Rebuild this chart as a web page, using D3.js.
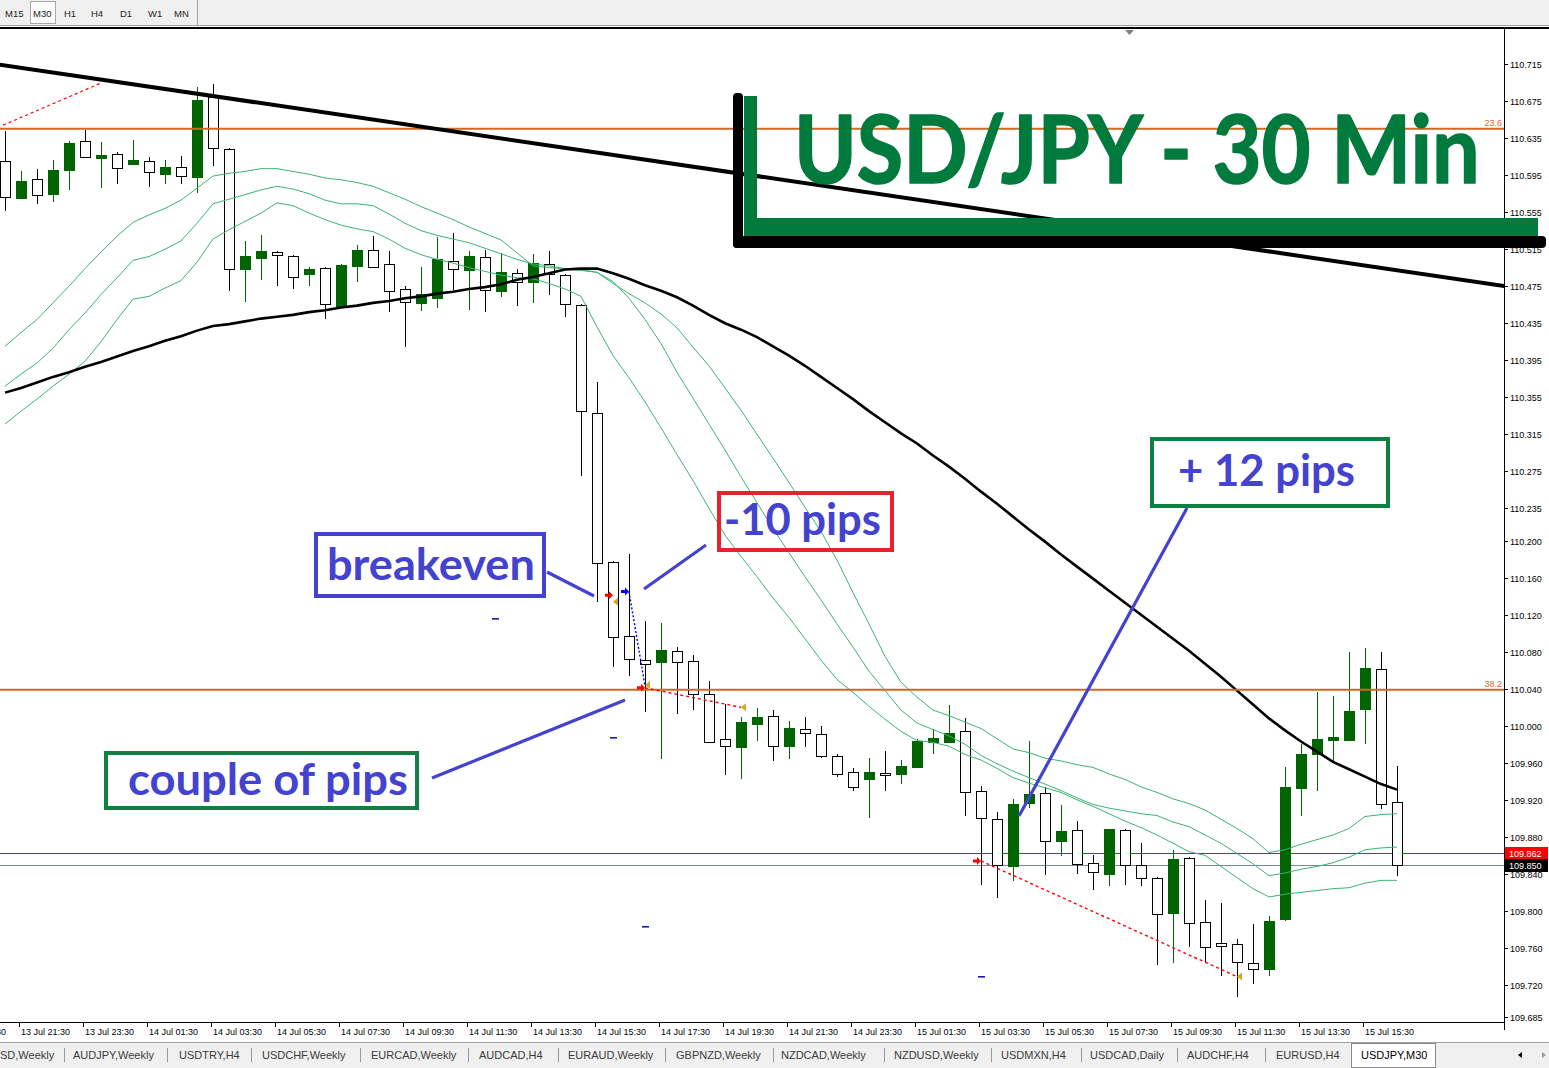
<!DOCTYPE html>
<html><head><meta charset="utf-8">
<script src="https://cdn.jsdelivr.net/npm/d3@7"></script>
<style>
html,body{margin:0;padding:0;background:#fff;overflow:hidden}
svg{display:block}
</style></head><body>
<svg id="c" width="1549" height="1068"></svg>
<script>
// ---------------- DATA ----------------
const open = [110.610,110.570,110.591,110.575,110.601,110.632,110.613,110.618,110.607,110.610,
110.596,110.604,110.593,110.679,110.623,110.494,110.505,110.512,110.508,110.488,
110.495,110.454,110.497,110.514,110.499,110.472,110.457,110.462,110.502,110.493,
110.507,110.470,110.489,110.480,110.499,110.487,110.455,110.338,110.177,110.097,
110.071,110.069,110.081,110.070,110.034,109.986,109.977,110.002,110.011,109.978,
109.996,109.991,109.967,109.950,109.943,109.949,109.948,109.956,109.983,109.982,
109.994,109.930,109.899,109.849,109.917,109.927,109.876,109.887,109.852,109.840,
109.887,109.850,109.836,109.798,109.857,109.788,109.765,109.764,109.744,109.737,
109.791,109.933,109.970,109.985,109.985,110.018,110.061,109.918];
const high = [110.643,110.599,110.602,110.611,110.632,110.644,110.631,110.620,110.633,110.615,
110.611,110.616,110.690,110.694,110.624,110.524,110.530,110.513,110.509,110.496,
110.496,110.499,110.520,110.529,110.513,110.475,110.496,110.528,110.532,110.513,
110.514,110.511,110.494,110.510,110.513,110.488,110.456,110.372,110.178,110.186,
110.113,110.111,110.085,110.076,110.048,110.023,110.010,110.019,110.017,110.005,
110.009,110.000,109.969,109.954,109.965,109.973,109.963,109.986,109.996,110.022,
110.008,109.935,109.907,109.921,109.984,109.934,109.914,109.897,109.860,109.889,
109.888,109.873,109.837,109.866,109.858,109.812,109.809,109.770,109.786,109.794,
109.955,109.980,110.037,110.032,110.080,110.084,110.080,109.957];
const low = [110.556,110.569,110.564,110.566,110.579,110.614,110.581,110.585,110.606,110.582,
110.585,110.585,110.576,110.605,110.470,110.458,110.482,110.475,110.472,110.475,
110.440,110.453,110.480,110.495,110.447,110.409,110.448,110.451,110.471,110.449,
110.447,110.463,110.454,110.457,110.466,110.442,110.270,110.134,110.063,110.054,
110.015,109.964,110.013,110.017,109.981,109.947,109.942,109.984,109.962,109.964,
109.977,109.965,109.945,109.930,109.900,109.929,109.937,109.955,109.969,109.981,
109.902,109.828,109.814,109.832,109.911,109.839,109.859,109.840,109.823,109.827,
109.828,109.827,109.742,109.744,109.761,109.744,109.730,109.707,109.721,109.730,
109.789,109.902,109.930,109.962,109.984,109.980,109.910,109.838];
const close = [110.571,110.589,110.574,110.601,110.630,110.615,110.617,110.603,110.611,110.598,
110.604,110.594,110.676,110.624,110.494,110.508,110.513,110.509,110.485,110.494,
110.456,110.498,110.514,110.496,110.470,110.458,110.467,110.504,110.494,110.508,
110.471,110.490,110.480,110.500,110.488,110.456,110.340,110.176,110.096,110.072,
110.067,110.082,110.069,110.034,109.983,109.978,110.004,110.010,109.978,109.998,
109.992,109.967,109.948,109.934,109.950,109.947,109.957,109.984,109.987,109.992,
109.928,109.900,109.850,109.916,109.926,109.876,109.886,109.851,109.842,109.888,
109.850,109.835,109.797,109.856,109.787,109.761,109.762,109.745,109.737,109.789,
109.934,109.970,109.986,109.988,110.016,110.062,109.916,109.850];

const maBlack = [110.360,110.365,110.371,110.377,110.382,110.388,110.393,110.399,110.405,110.410,
110.416,110.421,110.427,110.432,110.434,110.437,110.440,110.442,110.444,110.447,
110.449,110.452,110.454,110.457,110.459,110.462,110.464,110.467,110.469,110.472,
110.474,110.477,110.482,110.485,110.489,110.493,110.494,110.494,110.489,110.483,
110.476,110.470,110.463,110.454,110.444,110.435,110.428,110.420,110.410,110.400,
110.389,110.377,110.365,110.353,110.340,110.328,110.316,110.305,110.292,110.280,
110.267,110.253,110.240,110.226,110.212,110.199,110.185,110.172,110.159,110.146,
110.133,110.120,110.107,110.094,110.081,110.067,110.053,110.038,110.023,110.008,
109.995,109.983,109.972,109.961,109.953,109.945,109.937,109.931];
const maTop = [110.410,110.425,110.439,110.457,110.475,110.494,110.512,110.529,110.544,110.552,
110.559,110.568,110.581,110.594,110.597,110.599,110.602,110.602,110.599,110.596,
110.592,110.590,110.587,110.583,110.576,110.569,110.561,110.554,110.547,110.539,
110.532,110.525,110.511,110.497,110.495,110.494,110.492,110.490,110.478,110.467,
110.457,110.445,110.430,110.409,110.389,110.365,110.341,110.315,110.289,110.263,
110.236,110.210,110.179,110.144,110.110,110.075,110.047,110.031,110.017,110.011,
110.004,109.997,109.986,109.975,109.971,109.965,109.962,109.958,109.955,109.948,
109.942,109.934,109.928,109.921,109.916,109.909,109.899,109.889,109.878,109.863,
109.866,109.872,109.877,109.882,109.889,109.902,109.904,109.905];
const maMid = [110.367,110.380,110.392,110.408,110.428,110.446,110.466,110.484,110.503,110.507,
110.515,110.524,110.543,110.564,110.569,110.574,110.579,110.583,110.580,110.575,
110.568,110.564,110.564,110.562,110.553,110.543,110.535,110.530,110.526,110.522,
110.516,110.510,110.504,110.499,110.497,110.494,110.493,110.490,110.480,110.462,
110.439,110.413,110.382,110.354,110.326,110.298,110.269,110.241,110.213,110.187,
110.161,110.136,110.110,110.085,110.059,110.038,110.017,110.003,109.996,109.989,
109.980,109.968,109.959,109.951,109.944,109.937,109.930,109.922,109.915,109.911,
109.908,109.905,109.903,109.896,109.891,109.882,109.873,109.862,109.851,109.838,
109.841,109.845,109.848,109.852,109.858,109.866,109.868,109.869];
const maLow = [110.326,110.340,110.353,110.367,110.380,110.394,110.415,110.439,110.461,110.464,
110.473,110.481,110.501,110.526,110.536,110.545,110.554,110.565,110.562,110.554,
110.547,110.541,110.537,110.534,110.526,110.516,110.509,110.504,110.500,110.495,
110.491,110.487,110.484,110.483,110.478,110.472,110.464,110.431,110.400,110.376,
110.350,110.322,110.293,110.265,110.235,110.206,110.183,110.161,110.138,110.117,
110.094,110.071,110.050,110.036,110.021,110.007,109.994,109.984,109.982,109.978,
109.969,109.963,109.954,109.944,109.938,109.933,109.928,109.920,109.913,109.905,
109.897,109.890,109.882,109.873,109.864,109.860,109.848,109.836,109.824,109.815,
109.818,109.820,109.822,109.824,109.825,109.830,109.833,109.833];

const yTicks = [110.715,110.675,110.635,110.595,110.555,110.515,110.475,110.435,110.395,110.355,
110.315,110.275,110.235,110.200,110.160,110.120,110.080,110.040,110.000,109.960,
109.920,109.880,109.840,109.800,109.760,109.720,109.685];
const xTickIdx = [-3,1,5,9,13,17,21,25,29,33,37,41,45,49,53,57,61,65,69,73,77,81,85];
const xTickLabels = ["13 Jul 19:30","13 Jul 21:30","13 Jul 23:30","14 Jul 01:30","14 Jul 03:30",
"14 Jul 05:30","14 Jul 07:30","14 Jul 09:30","14 Jul 11:30","14 Jul 13:30","14 Jul 15:30",
"14 Jul 17:30","14 Jul 19:30","14 Jul 21:30","14 Jul 23:30","15 Jul 01:30","15 Jul 03:30",
"15 Jul 05:30","15 Jul 07:30","15 Jul 09:30","15 Jul 11:30","15 Jul 13:30","15 Jul 15:30"];

const fiboLevels = [110.645, 110.039];
const fiboLabels = ["23.6", "38.2"];
const fiboBaseIdx = [-0.12, 6.06];
const fiboBasePrice = [110.649, 110.695];
const trendIdx = [12, 80];
const trendPrice = [110.683, 110.510];
const askPrice = 109.862;
const bidPrice = 109.850;

const arrowIdx = [38, 39, 40, 61];
const arrowPrice = [110.141, 110.145, 110.041, 109.854];
const arrowColor = ["#ff0000", "#0000ff", "#ff0000", "#ff0000"];
const closeIdx = [38, 40, 46, 77];
const closePrice = [110.134, 110.044, 110.020, 109.729];
const tradeFromIdx = [39, 40, 61];
const tradeFromPrice = [110.145, 110.041, 109.854];
const tradeToIdx = [40, 46, 77];
const tradeToPrice = [110.043, 110.020, 109.729];
const tradeColor = ["#0000ff", "#ff0000", "#ff0000"];
const levelIdx = [30.6, 38, 40, 61];
const levelPrice = [110.115, 109.987, 109.783, 109.729];

const periods = ["M15","M30","H1","H4","D1","W1","MN"];
const tabs = ["SD,Weekly","AUDJPY,Weekly","USDTRY,H4","USDCHF,Weekly","EURCAD,Weekly","AUDCAD,H4",
"EURAUD,Weekly","GBPNZD,Weekly","NZDCAD,Weekly","NZDUSD,Weekly","USDMXN,H4","USDCAD,Daily",
"AUDCHF,H4","EURUSD,H4","USDJPY,M30"];

// ---------------- LAYOUT ----------------
const W = 1549, H = 1068;
const plotL = 0, plotR = 1504, plotT = 29, plotB = 1022;
const svg = d3.select("#c");
const x = d3.scaleLinear().domain([0, 87]).range([5, 1397]);
const y = d3.scaleLinear().domain([109.681, 110.754]).range([1021, 28]);
const F = "'Liberation Sans', Arial, sans-serif";

svg.append("rect").attr("width", W).attr("height", H).attr("fill", "#fff");

// toolbar
const tb = svg.append("g");
tb.append("rect").attr("x",0).attr("y",0).attr("width",W).attr("height",26).attr("fill","#f0f0f0");
tb.append("rect").attr("x",30.5).attr("y",1.5).attr("width",25).attr("height",22)
  .attr("fill","#fbfbfb").attr("stroke","#a8a8a8");
const periodX = [5,33,64,91,120,148,174];
tb.selectAll("text").data(periods).join("text")
  .attr("x",(d,i)=>periodX[i]).attr("y",17).attr("font-family",F).attr("font-size",9.5)
  .attr("fill","#222").text(d=>d);
tb.append("line").attr("x1",197.5).attr("x2",197.5).attr("y1",0).attr("y2",25).attr("stroke","#a0a0a0");
tb.append("line").attr("x1",0).attr("x2",W).attr("y1",25.5).attr("y2",25.5).attr("stroke","#a0a0a0");
tb.append("rect").attr("x",0).attr("y",27).attr("width",W).attr("height",2).attr("fill","#000");

// clip
svg.append("defs").append("clipPath").attr("id","pc").append("rect")
  .attr("x",plotL).attr("y",plotT).attr("width",plotR-plotL).attr("height",plotB-plotT);
const plot = svg.append("g").attr("clip-path","url(#pc)");

// bid / ask lines
plot.append("line").attr("x1",0).attr("x2",plotR).attr("y1",Math.round(y(askPrice))+0.5).attr("y2",Math.round(y(askPrice))+0.5)
  .attr("stroke","#ff0000").attr("stroke-width",1);
plot.append("line").attr("x1",0).attr("x2",plotR).attr("y1",Math.round(y(bidPrice))+0.5).attr("y2",Math.round(y(bidPrice))+0.5)
  .attr("stroke","#778899").attr("stroke-width",1);

// candles
const idx = d3.range(open.length);
const gC = plot.append("g").attr("shape-rendering","crispEdges");
const bull = i => close[i] > open[i];
gC.selectAll("line.w").data(idx).join("line").attr("class","w")
  .attr("x1",i=>Math.round(x(i))+0.5).attr("x2",i=>Math.round(x(i))+0.5)
  .attr("y1",i=>Math.round(y(high[i]))).attr("y2",i=>Math.round(y(low[i])))
  .attr("stroke",i=>bull(i)?"#006400":"#000").attr("stroke-width",1);
gC.selectAll("rect.b").data(idx).join("rect").attr("class","b")
  .attr("x",i=>Math.round(x(i))-4.5)
  .attr("y",i=>Math.round(y(Math.max(open[i],close[i])))+0.5)
  .attr("width",10)
  .attr("height",i=>Math.max(1,Math.round(y(Math.min(open[i],close[i])))-Math.round(y(Math.max(open[i],close[i])))))
  .attr("fill",i=>bull(i)?"#006400":"#fff")
  .attr("stroke",i=>bull(i)?"#006400":"#000").attr("stroke-width",1);

// moving averages
const lineGen = d3.line().x((d,i)=>x(i)).y(d=>y(d));
[maTop, maMid, maLow].forEach(a=>{
  plot.append("path").attr("d",lineGen(a)).attr("fill","none").attr("stroke","#3cb371").attr("stroke-width",1);
});
plot.append("path").attr("d",lineGen(maBlack)).attr("fill","none").attr("stroke","#000").attr("stroke-width",2.6);

// fibonacci
const fg = plot.append("g");
fiboLevels.forEach((v,k)=>{
  fg.append("line").attr("x1",0).attr("x2",plotR).attr("y1",y(v)).attr("y2",y(v))
    .attr("stroke","#d2691e").attr("stroke-width",2);
  fg.append("text").attr("x",plotR-2).attr("y",y(v)-3).attr("text-anchor","end")
    .attr("font-family",F).attr("font-size",9).attr("fill","#d2691e").text(fiboLabels[k]);
});
fg.append("line").attr("x1",x(fiboBaseIdx[0])).attr("y1",y(fiboBasePrice[0]))
  .attr("x2",x(fiboBaseIdx[1])).attr("y2",y(fiboBasePrice[1]))
  .attr("stroke","#ff0000").attr("stroke-width",1.2).attr("stroke-dasharray","3,3");

// trendline (extended ray)
const slope = (trendPrice[1]-trendPrice[0])/(trendIdx[1]-trendIdx[0]);
const tA = -2, tB = 96;
plot.append("line")
  .attr("x1",x(tA)).attr("y1",y(trendPrice[0]+slope*(tA-trendIdx[0])))
  .attr("x2",x(tB)).attr("y2",y(trendPrice[0]+slope*(tB-trendIdx[0])))
  .attr("stroke","#000").attr("stroke-width",4);

// trades
const tg = plot.append("g");
tradeFromIdx.forEach((d,k)=>{
  tg.append("line").attr("x1",x(d)).attr("y1",y(tradeFromPrice[k]))
    .attr("x2",x(tradeToIdx[k])).attr("y2",y(tradeToPrice[k]))
    .attr("stroke",tradeColor[k]).attr("stroke-width",1.4)
    .attr("stroke-dasharray",tradeColor[k]==="#0000ff"?"2,2":"3,3");
});
levelIdx.forEach((d,k)=>{
  tg.append("rect").attr("x",Math.round(x(d))-3).attr("y",Math.round(y(levelPrice[k]))-1)
    .attr("width",7).attr("height",1.6).attr("fill","#1a1ab0");
});
closeIdx.forEach((d,k)=>{
  const cx = x(d), cy = y(closePrice[k]);
  tg.append("path").attr("d",`M${cx},${cy} L${cx+5},${cy-4} L${cx+5},${cy+4} Z`).attr("fill","#daa520");
});
arrowIdx.forEach((d,k)=>{
  const cx = x(d), cy = y(arrowPrice[k]);
  tg.append("path").attr("d",`M${cx},${cy} L${cx-4},${cy-4} L${cx-4},${cy-1.5} L${cx-8},${cy-1.5} L${cx-8},${cy+1.5} L${cx-4},${cy+1.5} L${cx-4},${cy+4} Z`)
    .attr("fill",arrowColor[k]);
});

// axes frame
const ax = svg.append("g").attr("shape-rendering","crispEdges");
ax.append("line").attr("x1",plotR+0.5).attr("x2",plotR+0.5).attr("y1",plotT).attr("y2",1030).attr("stroke","#000");
ax.append("line").attr("x1",0).attr("x2",plotR+1).attr("y1",plotB+0.5).attr("y2",plotB+0.5).attr("stroke","#000");
yTicks.forEach(v=>{
  const yy = Math.round(y(v));
  ax.append("line").attr("x1",plotR).attr("x2",plotR+4).attr("y1",yy+0.5).attr("y2",yy+0.5).attr("stroke","#000");
  ax.append("text").attr("x",1510).attr("y",yy+3.5).attr("font-family",F).attr("font-size",9)
    .attr("fill","#000").text(d3.format(".3f")(v));
});
xTickIdx.forEach((d,k)=>{
  const xx = Math.round(x(d));
  ax.append("line").attr("x1",xx-1.5).attr("x2",xx-1.5).attr("y1",plotB).attr("y2",plotB+5).attr("stroke","#000");
  ax.append("text").attr("x",xx).attr("y",1035).attr("font-family",F).attr("font-size",9)
    .attr("fill","#000").text(xTickLabels[k]);
});
// price boxes
[[askPrice,"#ff0000"],[bidPrice,"#000000"]].forEach(([v,c])=>{
  const yy = y(v);
  ax.append("rect").attr("x",1505).attr("y",Math.round(yy)-6).attr("width",43).attr("height",13).attr("fill",c);
  ax.append("text").attr("x",1509).attr("y",Math.round(yy)+3.5).attr("font-family",F).attr("font-size",9)
    .attr("fill","#fff").text(d3.format(".3f")(v));
});
// shift marker
svg.append("path").attr("d","M1125,30 L1134,30 L1129.5,35 Z").attr("fill","#808080");

// tab bar
const tbb = svg.append("g");
tbb.append("rect").attr("x",0).attr("y",1042).attr("width",W).attr("height",26).attr("fill","#f0f0f0");
tbb.append("line").attr("x1",0).attr("x2",W).attr("y1",1042.5).attr("y2",1042.5).attr("stroke","#a0a0a0");
tbb.append("rect").attr("x",1351.5).attr("y",1043.5).attr("width",84).attr("height",24)
  .attr("fill","#fff").attr("stroke","#8a8a8a");
const tabX = [0,73,179,262,371,479,568,676,781,894,1001,1090,1187,1276,1361];
const sepX = [64,167,251,360,468,558,665,773,884,991,1081,1177,1265];
sepX.forEach(s=>tbb.append("line").attr("x1",s+0.5).attr("x2",s+0.5).attr("y1",1048).attr("y2",1062).attr("stroke","#9a9a9a"));
tbb.selectAll("text").data(tabs).join("text")
  .attr("x",(d,i)=>tabX[i]).attr("y",1059).attr("font-family",F).attr("font-size",11)
  .attr("fill",(d,i)=>i===tabs.length-1?"#000":"#3a3a3a").text(d=>d);
tbb.append("path").attr("d","M1518,1055 L1522,1052 L1522,1058 Z").attr("fill","#000");
tbb.append("path").attr("d","M1546,1055 L1542,1052 L1542,1058 Z").attr("fill","#9a9a9a");

// ---------------- ANNOTATIONS ----------------
const ann = svg.append("g");
const blue = "#4343cf", green = "#0f8040", red = "#e8222b";
const AF = "Lato, 'Open Sans', sans-serif";
// fit a text horizontally to a measured width using a transform (keeps bbox honest)
function fitText(g, str, x0, yb, size, targetW, fill, strokeW){
  const t = g.append("text").attr("x",0).attr("y",0).attr("font-family",AF).attr("font-weight",700)
    .attr("font-size",size).attr("fill",fill).text(str);
  if (strokeW) t.attr("stroke",fill).attr("stroke-width",strokeW).attr("stroke-linejoin","round");
  const w = t.node().getComputedTextLength() || targetW;
  t.attr("transform",`translate(${x0},${yb}) scale(${targetW/w},1)`);
  return t;
}
[[547,572,594,596],[706,545,644,589],[432,778,625,700],[1187,508,1019,816]].forEach(l=>{
  ann.append("line").attr("x1",l[0]).attr("y1",l[1]).attr("x2",l[2]).attr("y2",l[3])
    .attr("stroke",blue).attr("stroke-width",3.2);
});
const boxX = [314,717,104,1150], boxY = [532,491,751,437], boxW = [232,177,315,240], boxH = [66,61,59,71];
const boxC = [blue,red,green,green];
const boxText = ["breakeven","-10 pips","couple of pips","+ 12 pips"];
const boxTx = [327,724,128,1178], boxTy = [580,535,795,486], boxTl = [208,157,280,177];
boxText.forEach((s,k)=>{
  ann.append("rect").attr("x",boxX[k]+2).attr("y",boxY[k]+2).attr("width",boxW[k]-4).attr("height",boxH[k]-4)
    .attr("fill","none").attr("stroke",boxC[k]).attr("stroke-width",4);
  fitText(ann, s, boxTx[k], boxTy[k], 44, boxTl[k], blue, 0);
});
// title frame
const tg2 = svg.append("g");
tg2.append("rect").attr("x",733).attr("y",93).attr("width",10).attr("height",155).attr("rx",4).attr("fill","#000");
tg2.append("rect").attr("x",733).attr("y",236).attr("width",813).attr("height",12).attr("rx",4).attr("fill","#000");
tg2.append("rect").attr("x",744).attr("y",96).attr("width",13).attr("height",138).attr("fill","#007a3d");
tg2.append("rect").attr("x",744).attr("y",218).attr("width",794).attr("height",18).attr("fill","#007a3d");
fitText(tg2, "USD/JPY - 30 Min", 794, 183, 94, 686, "#007a3d", 1.6);
</script>
</body></html>
